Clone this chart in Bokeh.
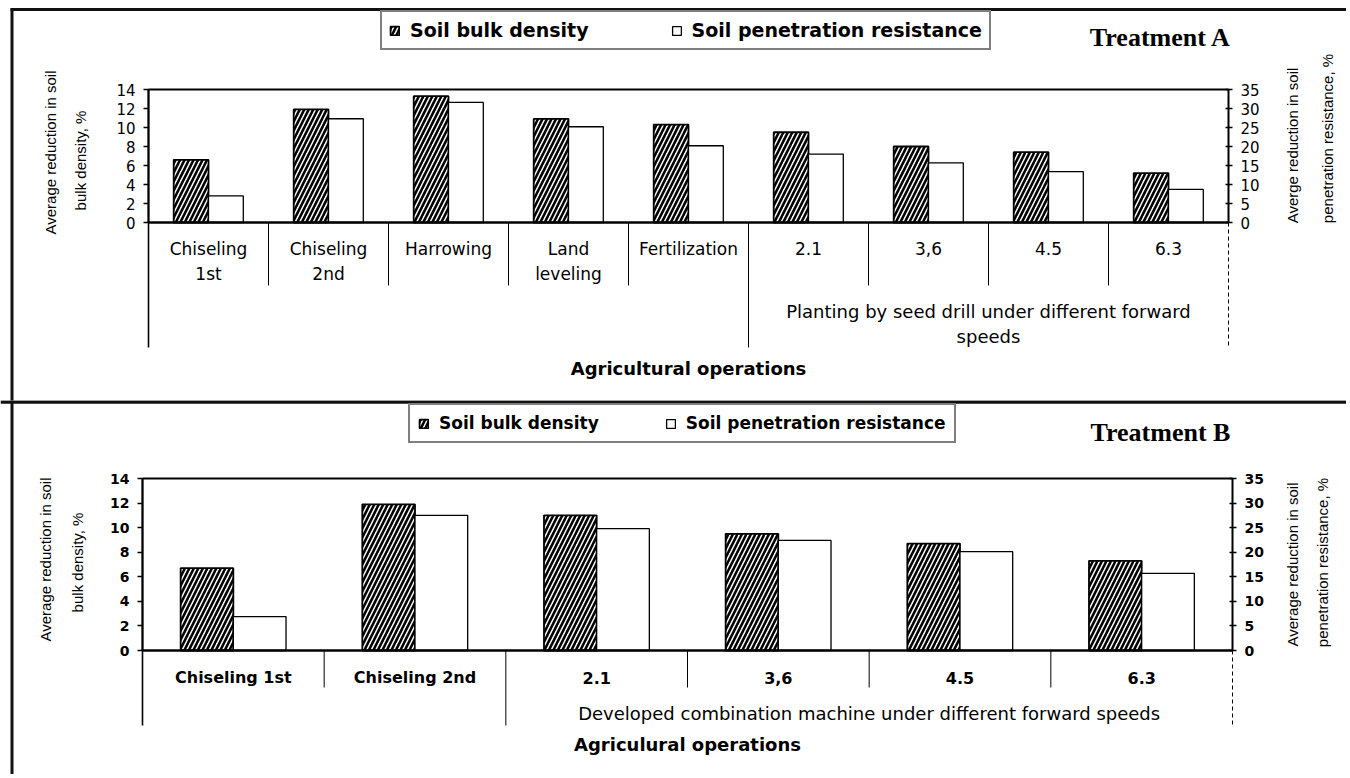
import math
from bokeh.plotting import figure
from bokeh.models import Range1d, LinearAxis, FixedTicker, Legend, LegendItem
from bokeh.layouts import column
from bokeh.embed import file_html
from bokeh.resources import INLINE
from bokeh.core.properties import value

# ------------------------------------------------------------------ data
series_names = ["Soil bulk density", "Soil penetration resistance"]
left_ticks = [0, 2, 4, 6, 8, 10, 12, 14]
right_ticks = [0, 5, 10, 15, 20, 25, 30, 35]

top_categories = ["Chiseling 1st", "Chiseling 2nd", "Harrowing", "Land leveling",
                  "Fertilization", "2.1", "3,6", "4.5", "6.3"]
top_label_lines = [["Chiseling", "1st"], ["Chiseling", "2nd"], ["Harrowing"],
                   ["Land", "leveling"], ["Fertilization"], ["2.1"], ["3,6"], ["4.5"], ["6.3"]]
top_bulk_density = [6.6, 11.9, 13.3, 10.9, 10.3, 9.5, 8.0, 7.4, 5.2]
top_penetration = [7.0, 27.3, 31.6, 25.2, 20.2, 18.0, 15.7, 13.4, 8.7]
top_group_label = ["Planting by seed drill under different forward", "speeds"]
top_group_first = 5
top_title = "Treatment A"
top_xlabel = "Agricultural operations"
top_ytitle_left = ["Average reduction in soil", "bulk density, %"]
top_ytitle_right = ["Averge reduction in soil", "penetration resistance, %"]

bottom_categories = ["Chiseling 1st", "Chiseling 2nd", "2.1", "3,6", "4.5", "6.3"]
bottom_label_lines = [[c] for c in bottom_categories]
bottom_bulk_density = [6.7, 11.9, 11.0, 9.5, 8.7, 7.3]
bottom_penetration = [6.9, 27.5, 24.8, 22.4, 20.1, 15.7]
bottom_group_label = ["Developed combination machine under different forward speeds"]
bottom_group_first = 2
bottom_title = "Treatment B"
bottom_xlabel = "Agriculural operations"
bottom_ytitle_left = ["Average reduction in soil", "bulk density, %"]
bottom_ytitle_right = ["Average reduction in soil", "penetration resistance, %"]

W = 1346


def build_panel(cfg):
    H, oy = cfg["H"], cfg["oy"]
    fl, fr = cfg["frame_left"], cfg["frame_right"]
    ft, fz, fb = cfg["top_px"], cfg["zero_px"], cfg["bottom_px"]
    n = len(cfg["cats"])
    sx = (fr - fl) / float(n)          # px per category
    ppu = (fz - ft) / 14.0             # px per left-axis unit
    ratio = 35.0 / 14.0
    y_start = -(oy + H - fz) / ppu
    y_end = (fz - oy) / ppu
    x_start = -fl / sx
    x_end = (W - fl) / sx

    def X(px):
        return (px - fl) / sx

    def Y(px):
        return (fz - px) / ppu

    p = figure(width=W, height=H, title=None,
               x_range=Range1d(x_start, x_end), y_range=Range1d(y_start, y_end),
               min_border=0, toolbar_location=None, output_backend="svg",
               background_fill_color="white", border_fill_color="white")
    p.outline_line_color = None
    p.xgrid.visible = False
    p.ygrid.visible = False
    p.xaxis.visible = False
    p.extra_y_ranges = {"right": Range1d(y_start * ratio, y_end * ratio)}

    tf = cfg["tick_font"]
    ya = p.yaxis[0]
    ya.fixed_location = 0
    ya.ticker = FixedTicker(ticks=left_ticks)
    ya.axis_line_color = None
    ya.major_tick_out = 5
    ya.major_tick_in = 0
    ya.major_tick_line_width = 1.5
    ya.minor_tick_line_color = None
    ya.major_label_standoff = 8
    ya.major_label_text_font = "DejaVu Sans"
    ya.major_label_text_font_size = tf[0]
    ya.major_label_text_font_style = tf[1]
    ya.major_label_text_color = "black"
    ra = LinearAxis(y_range_name="right", fixed_location=n,
                    ticker=FixedTicker(ticks=right_ticks),
                    axis_line_color=None, major_tick_out=4, major_tick_in=3,
                    major_tick_line_width=1.5, minor_tick_line_color=None,
                    major_label_standoff=8, major_label_text_font="DejaVu Sans",
                    major_label_text_font_size=tf[0], major_label_text_font_style=tf[1],
                    major_label_text_color="black")
    p.add_layout(ra, "right")

    # bars
    bw = 0.29
    xs = [i + 0.5 for i in range(n)]
    r1 = p.vbar(x=[x - bw / 2 for x in xs], top=cfg["bulk"], bottom=0, width=bw,
                fill_color="white", hatch_pattern="/", hatch_color="black",
                hatch_weight=2.6, hatch_scale=9, line_color="black", line_width=1.8)
    r2 = p.vbar(x=[x + bw / 2 for x in xs], top=cfg["pen"], bottom=0, width=bw,
                y_range_name="right", fill_color="white", line_color="black",
                line_width=1.3)

    ybot = Y(fb)
    # plot box: top line, zero line, left axis line, right axis line
    p.segment(x0=[0, 0], y0=[14, 0], x1=[n, n], y1=[14, 0],
              line_color="black", line_width=[2, 2.5])
    p.segment(x0=[0, n], y0=[ybot, 0], x1=[0, n], y1=[14, 14],
              line_color="black", line_width=[1.6, 2])
    p.segment(x0=[0], y0=[0], x1=[0], y1=[14], line_color="black", line_width=2)
    # category separators
    g = cfg["group_first"]
    inner = [i for i in range(1, n) if i != g]
    ysep = Y(cfg["inner_sep_px"])
    p.segment(x0=inner, y0=[0] * len(inner), x1=inner, y1=[ysep] * len(inner),
              line_color="black", line_width=1)
    p.segment(x0=[g], y0=[0], x1=[g], y1=[ybot], line_color="black", line_width=1)
    p.segment(x0=[n], y0=[0], x1=[n], y1=[ybot], line_color="black",
              line_width=1, line_dash="4 3")

    # panel frame lines (outer border of the picture)
    for (x0, y0, x1, y1, lw) in cfg["borders"]:
        p.segment(x0=[X(x0)], y0=[Y(y0)], x1=[X(x1)], y1=[Y(y1)],
                  line_color="#111111", line_width=lw)

    # category labels
    lx, ly, lt = [], [], []
    for i, lines in enumerate(cfg["label_lines"]):
        for k, t in enumerate(lines):
            lx.append(i + 0.5)
            ly.append(Y(cfg["label_px"][k]))
            lt.append(t)
    cf = cfg["cat_font"]
    p.text(x=lx, y=ly, text=lt, text_font=value("DejaVu Sans"),
           text_font_size=cf[0], text_font_style=cf[1], text_color="black",
           text_align="center", text_baseline="middle")
    gx = (g + n) / 2.0
    gl = cfg["group_label"]
    p.text(x=[gx] * len(gl), y=[Y(px) for px in cfg["group_px"][:len(gl)]],
           text=gl, text_font=value("DejaVu Sans"), text_font_size="18px",
           text_color="black", text_align="center", text_baseline="middle")
    # x title
    p.text(x=[n / 2.0], y=[Y(cfg["xlabel_px"])], text=[cfg["xlabel"]],
           text_font=value("DejaVu Sans"), text_font_style="bold",
           text_font_size="18px", text_color="black",
           text_align="center", text_baseline="middle")
    # treatment title
    tx, ty = cfg["title_pos"]
    p.text(x=[X(tx)], y=[Y(ty)], text=[cfg["title"]],
           text_font=value("Liberation Serif"), text_font_style="bold",
           text_font_size="26px", text_color="black",
           text_align="center", text_baseline="middle")
    # y titles (rotated, two lines each side)
    tx_, ty_, tt_ = [], [], []
    for lines, pos in ((cfg["ytitle_left"], cfg["ytitle_left_pos"]),
                       (cfg["ytitle_right"], cfg["ytitle_right_pos"])):
        for t, (px, py) in zip(lines, pos):
            tx_.append(X(px))
            ty_.append(Y(py))
            tt_.append(t)
    p.text(x=tx_, y=ty_, text=tt_, angle=math.pi / 2,
           text_font=value("Liberation Sans"), text_font_size="15px",
           text_color="black", text_align="center", text_baseline="middle")

    # legend
    lf = cfg["legend"]
    legend = Legend(items=[LegendItem(label=series_names[0], renderers=[r1]),
                           LegendItem(label=series_names[1], renderers=[r2])],
                    orientation="horizontal",
                    location=(lf["left"], oy + H - lf["bottom"]),
                    padding=lf["padding"], spacing=lf["spacing"], margin=0,
                    glyph_width=11, glyph_height=11, label_standoff=10,
                    label_height=20,
                    label_text_font="DejaVu Sans", label_text_font_style="bold",
                    label_text_font_size=lf["size"], label_text_color="black",
                    border_line_color="black", border_line_width=2,
                    background_fill_color="white", background_fill_alpha=1.0)
    p.add_layout(legend)
    return p


H1, H2 = 400, 374

top_cfg = dict(
    H=H1, oy=0, frame_left=148, frame_right=1228,
    top_px=89, zero_px=222, bottom_px=347,
    cats=top_categories, label_lines=top_label_lines,
    bulk=top_bulk_density, pen=top_penetration,
    group_label=top_group_label, group_first=top_group_first,
    label_px=[248, 273], inner_sep_px=285, group_px=[311, 336],
    tick_font=("15px", "normal"), cat_font=("17px", "normal"),
    xlabel=top_xlabel, xlabel_px=368,
    legend=dict(left=380, bottom=50, padding=7, spacing=82, size="19px"),
    title=top_title, title_pos=(1160, 37),
    ytitle_left=top_ytitle_left, ytitle_left_pos=[(50, 152), (80, 160)],
    ytitle_right=top_ytitle_right, ytitle_right_pos=[(1292, 145), (1327, 138)],
    borders=[(10, 9, W, 9, 3), (11.5, 8, 11.5, H1 + 2, 3)],
)

bottom_cfg = dict(
    H=H2, oy=H1, frame_left=142, frame_right=1232,
    top_px=478, zero_px=650, bottom_px=725,
    cats=bottom_categories, label_lines=bottom_label_lines,
    bulk=bottom_bulk_density, pen=bottom_penetration,
    group_label=bottom_group_label, group_first=bottom_group_first,
    label_px=[677], inner_sep_px=687, group_px=[713],
    tick_font=("14px", "bold"), cat_font=("16px", "bold"),
    xlabel=bottom_xlabel, xlabel_px=744,
    legend=dict(left=408, bottom=443, padding=8, spacing=66, size="17px"),
    title=bottom_title, title_pos=(1160, 432),
    ytitle_left=bottom_ytitle_left, ytitle_left_pos=[(45, 559), (77, 562)],
    ytitle_right=bottom_ytitle_right, ytitle_right_pos=[(1292, 564), (1322, 562)],
    borders=[(0, H1 + 1.5, W, H1 + 1.5, 3.5), (11.5, H1 - 2, 11.5, H1 + H2 + 2, 3)],
)

p1 = build_panel(top_cfg)
p2 = build_panel(bottom_cfg)
layout = column(p1, p2, spacing=0)

open("out.html", "w").write(file_html(layout, INLINE))
